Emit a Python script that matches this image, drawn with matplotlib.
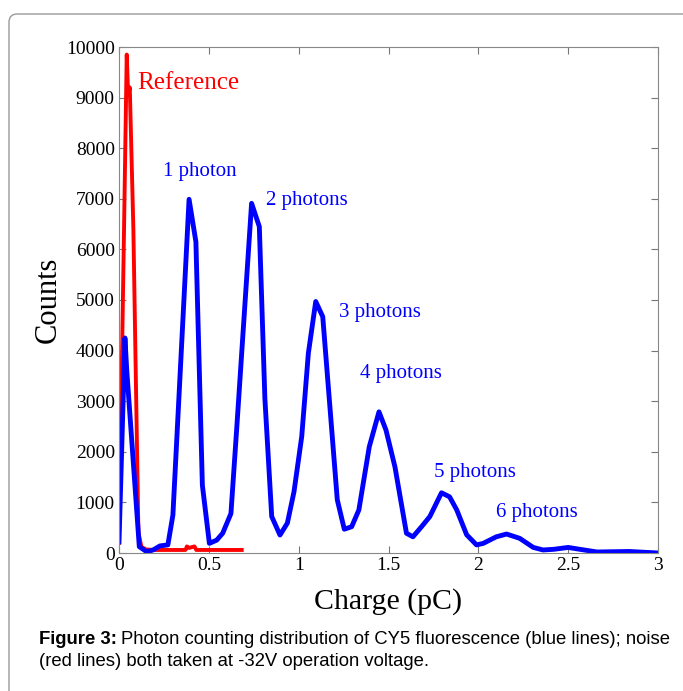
import matplotlib
matplotlib.use("Agg")
import matplotlib.pyplot as plt
from matplotlib.patches import FancyBboxPatch

# blue: photon counting distribution (CY5)
blue_x = [0, 0.033, 0.043, 0.113, 0.154, 0.19, 0.228, 0.272, 0.30, 0.39, 0.428, 0.464,
          0.503, 0.544, 0.577, 0.623, 0.655, 0.738, 0.781, 0.812, 0.85, 0.896, 0.937,
          0.974, 1.017, 1.054, 1.095, 1.134, 1.215, 1.254, 1.295, 1.335, 1.393, 1.447,
          1.486, 1.536, 1.60, 1.636, 1.684, 1.73, 1.795, 1.84, 1.88, 1.935, 1.99, 2.027,
          2.10, 2.157, 2.23, 2.306, 2.36, 2.42, 2.50, 2.565, 2.66, 2.75, 2.84, 3.0]
blue_y = [220, 4250, 3620, 125, 25, 60, 140, 160, 750, 6990, 6150, 1340,
          190, 255, 390, 780, 2450, 6910, 6450, 3050, 720, 355, 590,
          1210, 2300, 3950, 4970, 4670, 1050, 470, 520, 850, 2100, 2790,
          2430, 1700, 390, 320, 520, 720, 1190, 1110, 850, 360, 160, 190,
          320, 375, 290, 110, 60, 73, 110, 73, 20, 25, 30, 0]

# red: reference (noise)
red_x = [0, 0.028, 0.043, 0.051, 0.06, 0.08, 0.108, 0.125, 0.15, 0.2, 0.3, 0.37,
         0.378, 0.39, 0.42, 0.43, 0.5, 0.6, 0.683]
red_y = [200, 6400, 9850, 9050, 9200, 6400, 400, 120, 70, 60, 60, 60,
         130, 100, 130, 60, 60, 60, 60]

labels = ["Reference", "1 photon", "2 photons", "3 photons", "4 photons", "5 photons", "6 photons"]
label_x = [0.10, 0.245, 0.818, 1.224, 1.341, 1.753, 2.098]
label_y = [9290, 7530, 6960, 4760, 3540, 1600, 810]
label_c = ["red", "blue", "blue", "blue", "blue", "blue", "blue"]
label_s = [18, 15, 15, 15, 15, 15, 15]

serif = "Liberation Serif"
sans = "Liberation Sans"

fig = plt.figure(figsize=(6.83, 6.91), dpi=100)
frame = FancyBboxPatch((9/683, -0.05), 1.0, 1 - 14/691 + 0.05,
                       boxstyle="round,pad=0,rounding_size=0.012",
                       transform=fig.transFigure, facecolor="none",
                       edgecolor="#9a9a9a", linewidth=1.0)
fig.patches.append(frame)

ax = fig.add_axes([119/683, 138/691, (658-119)/683, (553-47)/691])
ax.plot(red_x, red_y, color="red", lw=2.8)
ax.plot(blue_x, blue_y, color="blue", lw=3.5)

for t, x, y, c, s in zip(labels, label_x, label_y, label_c, label_s):
    ax.text(x, y, t, color=c, fontsize=s, family=serif, va="center", ha="left")

ax.set_xlim(0, 3)
ax.set_ylim(0, 10000)
ax.set_xticks([0, 0.5, 1, 1.5, 2, 2.5, 3])
ax.set_xticklabels(["0", "0.5", "1", "1.5", "2", "2.5", "3"])
ax.set_yticks(range(0, 10001, 1000))
ax.tick_params(direction="in", top=True, right=True, length=5, width=0.8,
               color="#777777", labelsize=14, pad=3)
for lab in ax.get_xticklabels() + ax.get_yticklabels():
    lab.set_family(serif)
for sp in ax.spines.values():
    sp.set_color("#888888")
    sp.set_linewidth(0.8)

ax.set_xlabel("Charge (pC)", family=serif, fontsize=21.5, labelpad=10)
ax.set_ylabel("Counts", family=serif, fontsize=22, labelpad=2)

cap_y1 = 1 - 640/691
cap_y2 = 1 - 662/691
bold = fig.text(39/683, cap_y1, "Figure 3:", fontsize=13.3, fontweight="bold",
                family=sans, va="center")
fig.canvas.draw()
bb = bold.get_window_extent()
fig.text((bb.x1 + 4) / 683, cap_y1,
         "Photon counting distribution of CY5 fluorescence (blue lines); noise",
         fontsize=13.3, family=sans, va="center")
fig.text(39/683, cap_y2, "(red lines) both taken at -32V operation voltage.",
         fontsize=13.3, family=sans, va="center")

fig.savefig("out.png", dpi=100)
